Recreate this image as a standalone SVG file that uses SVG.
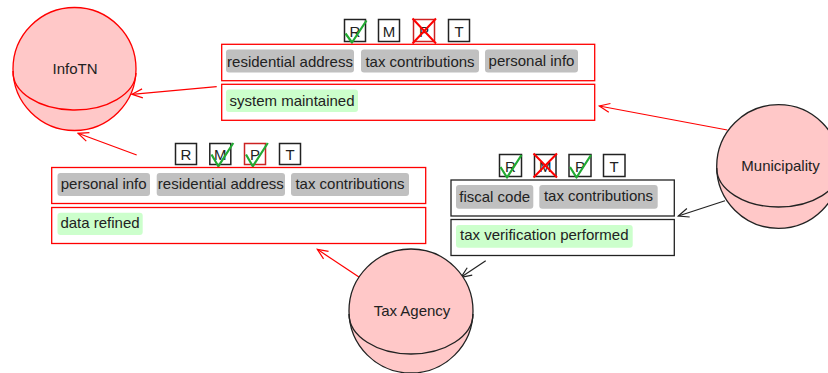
<svg xmlns="http://www.w3.org/2000/svg" width="828" height="373" viewBox="0 0 828 373">
<defs>
<style>
text{font-family:"Liberation Sans",Arial,sans-serif;font-size:15px;fill:#222}
.c{text-anchor:middle}
.sph{fill:#ffc8c8;stroke-width:1.3}
.arc{fill:none;stroke-width:1.3}
.rb{fill:#fff;stroke:#f00;stroke-width:1.3}
.bb{fill:#fff;stroke:#222;stroke-width:1.3}
.tag{fill:#c0c0c0}
.gt{fill:#ccffcc}
.cb{fill:#fff;stroke:#222;stroke-width:1.5}
.cbr{fill:#fff;stroke:#c22;stroke-width:1.5}
.chk{fill:none;stroke:#22aa33;stroke-width:2.2;stroke-linejoin:round}
.x{fill:none;stroke:#f00;stroke-width:2}
.lr{fill:none;stroke:#f00;stroke-width:1.2}
.lb{fill:none;stroke:#222;stroke-width:1.2}
</style>
<marker id="ar" markerUnits="userSpaceOnUse" viewBox="-1 -1 13 11" refX="10.5" refY="4.5" markerWidth="13" markerHeight="11" orient="auto"><path d="M0,0 L10.5,4.5 L0,9" fill="none" stroke="#f00" stroke-width="1.2"/></marker>
<marker id="ab" markerUnits="userSpaceOnUse" viewBox="-1 -1 13 11" refX="10.5" refY="4.5" markerWidth="13" markerHeight="11" orient="auto"><path d="M0,0 L10.5,4.5 L0,9" fill="none" stroke="#222" stroke-width="1.2"/></marker>
</defs>
<rect width="828" height="373" fill="#fff"/>

<g id="connectors">
<path class="lr" d="M216.7,86.7 L132,94.3" marker-end="url(#ar)"/>
<path class="lr" d="M136.7,155 L78,133.3" marker-end="url(#ar)"/>
<path class="lr" d="M727.3,130 L599.3,106" marker-end="url(#ar)"/>
<path class="lb" d="M725,200.7 L678.3,216" marker-end="url(#ab)"/>
<path class="lb" d="M485.7,260.7 L461,277.3" marker-end="url(#ab)"/>
<path class="lr" d="M359.3,277.3 L317.3,249.3" marker-end="url(#ar)"/>
</g>

<g id="infotn">
<circle class="sph" cx="74.5" cy="69" r="61.5" stroke="#f00"/>
<path class="arc" stroke="#f00" d="M13,71 A61.5,38 0 0 0 136,73"/>
<text class="c" x="75" y="74">InfoTN</text>
</g>

<g id="municipality">
<circle class="sph" cx="778.5" cy="166.5" r="61.8" stroke="#222"/>
<path class="arc" stroke="#222" d="M716.7,168 A61.8,39 0 0 0 840.3,168"/>
<text class="c" x="780.5" y="171">Municipality</text>
</g>

<g id="tax-agency">
<circle class="sph" cx="411" cy="311" r="62" stroke="#222"/>
<path class="arc" stroke="#222" d="M349,314 A62,40 0 0 0 473,314"/>
<text class="c" x="412" y="316">Tax Agency</text>
</g>

<g id="data-system-maintained">
<rect class="cb" x="344.5" y="19.5" width="21" height="22"/>
<text class="c" x="355" y="36.5">R</text>
<path class="chk" d="M345.5,33.5 L352,42.5 L366.5,20.5"/>
<rect class="cb" x="378.5" y="19.5" width="21" height="22"/>
<text class="c" x="389" y="36.5">M</text>
<rect class="cbr" x="413.5" y="19.5" width="21" height="22"/>
<text class="c" x="424" y="36.5">P</text>
<path class="x" d="M412.5,18.5 L436,43.5 M436,18.5 L412.5,43.5"/>
<rect class="cb" x="448.5" y="19.5" width="21" height="22"/>
<text class="c" x="459" y="36.5">T</text>
<rect class="rb" x="221.7" y="44.3" width="373" height="36.4"/>
<rect class="tag" x="226" y="49.5" width="128" height="23" rx="3"/>
<text class="c" x="290" y="66.5">residential address</text>
<rect class="tag" x="361" y="49.5" width="118" height="23" rx="3"/>
<text class="c" x="420" y="66.5">tax contributions</text>
<rect class="tag" x="485" y="49.5" width="93" height="23" rx="3"/>
<text class="c" x="531.5" y="65.5">personal info</text>
<rect class="rb" x="221.7" y="84.3" width="373" height="36"/>
<rect class="gt" x="226" y="89.5" width="132" height="22.5" rx="3"/>
<text class="c" x="292" y="106">system maintained</text>
</g>

<g id="data-refined">
<rect class="cb" x="175.5" y="143.5" width="21" height="21"/>
<text class="c" x="186" y="160">R</text>
<rect class="cb" x="209.8" y="143.5" width="21" height="21"/>
<text class="c" x="220.3" y="160">M</text>
<path class="chk" d="M211.5,154.5 L218.3,166.3 L233.3,143"/>
<rect class="cbr" x="244.5" y="143.5" width="21" height="21"/>
<text class="c" x="255" y="160">P</text>
<path class="chk" d="M246,154.5 L252.8,166.3 L267.8,143"/>
<rect class="cb" x="279.5" y="143.5" width="21" height="21"/>
<text class="c" x="290" y="160">T</text>
<rect class="rb" x="51.7" y="167.5" width="374" height="36"/>
<rect class="tag" x="57.5" y="173" width="92.5" height="23" rx="3"/>
<text class="c" x="103.7" y="189">personal info</text>
<rect class="tag" x="156.7" y="173" width="128.3" height="23" rx="3"/>
<text class="c" x="220.8" y="189">residential address</text>
<rect class="tag" x="291" y="173" width="118" height="23" rx="3"/>
<text class="c" x="350" y="189">tax contributions</text>
<rect class="rb" x="51.7" y="207.5" width="374" height="36"/>
<rect class="gt" x="57.5" y="212.7" width="85.2" height="22.3" rx="3"/>
<text class="c" x="100" y="228">data refined</text>
</g>

<g id="data-tax-verification">
<rect class="cb" x="499.5" y="154.5" width="22" height="22"/>
<text class="c" x="510.5" y="171.5">R</text>
<path class="chk" d="M500.5,167 L507,177.5 L521.5,155"/>
<rect class="cb" x="534.5" y="154.5" width="21.5" height="22"/>
<text class="c" x="545.2" y="171.5">M</text>
<path class="x" d="M533.5,153.5 L557,177.5 M557,153.5 L533.5,177.5"/>
<rect class="cb" x="569" y="154.5" width="22" height="22"/>
<text class="c" x="580" y="171.5">P</text>
<path class="chk" d="M570,167 L576.5,177.5 L591,155"/>
<rect class="cb" x="603.5" y="154.5" width="21.5" height="22"/>
<text class="c" x="614.2" y="171.5">T</text>
<rect class="bb" x="451" y="180" width="223.3" height="36"/>
<rect class="tag" x="456" y="185" width="77.3" height="23.7" rx="3"/>
<text class="c" x="494.7" y="202">fiscal code</text>
<rect class="tag" x="539.3" y="185" width="118.4" height="23.7" rx="3"/>
<text class="c" x="598.5" y="201">tax contributions</text>
<rect class="bb" x="451" y="219.5" width="223.3" height="36"/>
<rect class="gt" x="456" y="225" width="176.7" height="22.7" rx="3"/>
<text class="c" x="544.3" y="240">tax verification performed</text>
</g>
</svg>
